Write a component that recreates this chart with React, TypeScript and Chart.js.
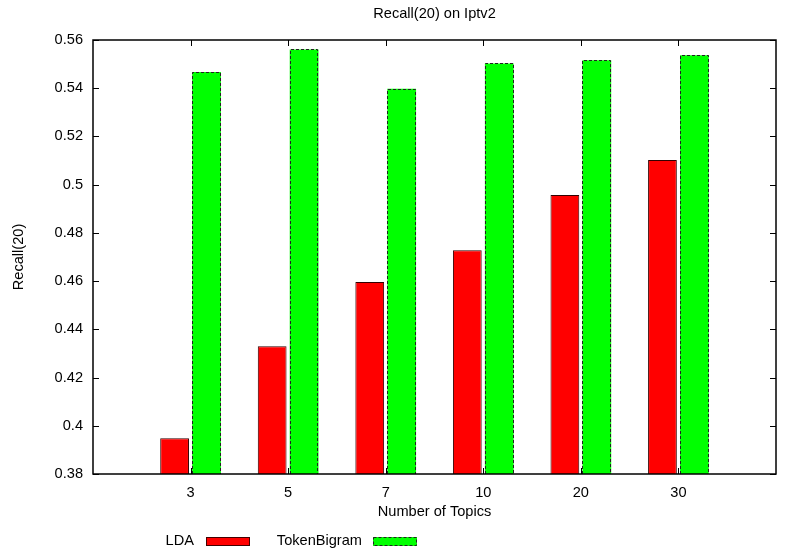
import React, { useEffect, useRef } from 'react';
import { Chart, registerables } from 'chart.js';

Chart.register(...registerables);

const categories = ['3', '5', '7', '10', '20', '30'];
const ldaValues = [0.3948, 0.433, 0.4596, 0.4728, 0.4957, 0.5102];
const tokenBigramValues = [0.5467, 0.5561, 0.5398, 0.5503, 0.5516, 0.5537];
const yTickValues = [0.38, 0.4, 0.42, 0.44, 0.46, 0.48, 0.5, 0.52, 0.54, 0.56];
const seriesNames = ['LDA', 'TokenBigram'];
const chartTitle = 'Recall(20) on Iptv2';
const xAxisTitle = 'Number of Topics';
const yAxisTitle = 'Recall(20)';

const FONT = '"Liberation Sans", Arial, Helvetica, sans-serif';
const FONT_SIZE = 14.6;
const RED = '#ff0000';
const GREEN = '#00ff00';

const gnuplotPlugin = {
  id: 'gnuplotFrame',
  beforeDatasetsDraw(chart: any) {
    const { ctx, chartArea, scales } = chart;
    const { left, right, top, bottom } = chartArea;
    const tl = 6;
    ctx.save();
    ctx.strokeStyle = '#000';
    ctx.lineWidth = 1;
    ctx.beginPath();
    const xs = scales.x;
    for (let i = 1; i < xs.ticks.length - 1; i++) {
      const px = Math.round(xs.getPixelForTick(i)) + 0.5;
      ctx.moveTo(px, bottom);
      ctx.lineTo(px, bottom - tl);
      ctx.moveTo(px, top);
      ctx.lineTo(px, top + tl);
    }
    const ys = scales.y;
    for (let i = 0; i < ys.ticks.length; i++) {
      const py = Math.round(ys.getPixelForTick(i)) + 0.5;
      ctx.moveTo(left, py);
      ctx.lineTo(left + tl, py);
      ctx.moveTo(right, py);
      ctx.lineTo(right - tl, py);
    }
    ctx.stroke();
    ctx.restore();
  },
  afterDatasetsDraw(chart: any) {
    const { ctx, chartArea } = chart;
    const { left, right, top, bottom } = chartArea;
    ctx.save();
    const meta = chart.getDatasetMeta(1);
    const data = chart.data.datasets[1].data;
    ctx.strokeStyle = '#222';
    ctx.lineWidth = 1;
    ctx.setLineDash([3, 2]);
    meta.data.forEach((el: any, i: number) => {
      if (data[i] == null) return;
      const p = el.getProps(['x', 'y', 'width'], true);
      const x0 = Math.round(p.x - p.width / 2) + 0.5;
      const x1 = Math.round(p.x + p.width / 2) - 0.5;
      const y0 = Math.round(p.y) + 0.5;
      ctx.beginPath();
      ctx.moveTo(x0, bottom);
      ctx.lineTo(x0, y0);
      ctx.lineTo(x1, y0);
      ctx.lineTo(x1, bottom);
      ctx.stroke();
    });
    ctx.setLineDash([]);
    ctx.strokeStyle = '#000';
    ctx.lineWidth = 1.5;
    ctx.strokeRect(left, top, right - left, bottom - top);
    ctx.restore();
  },
  afterDraw(chart: any) {
    const { ctx, chartArea } = chart;
    const cx = (chartArea.left + chartArea.right) / 2;
    const cy = (chartArea.top + chartArea.bottom) / 2;
    ctx.save();
    ctx.fillStyle = '#000';
    ctx.font = `${FONT_SIZE}px ${FONT}`;
    ctx.textAlign = 'center';
    ctx.textBaseline = 'middle';
    ctx.fillText(chartTitle, cx, 14);
    ctx.fillText(xAxisTitle, cx, 512);
    ctx.save();
    ctx.translate(19, cy);
    ctx.rotate(-Math.PI / 2);
    ctx.fillText(yAxisTitle, 0, 0);
    ctx.restore();
    ctx.textAlign = 'right';
    const ly = 541;
    ctx.fillText(seriesNames[0], 194, ly);
    ctx.fillStyle = RED;
    ctx.fillRect(206, ly - 4, 44, 9);
    ctx.strokeStyle = '#400';
    ctx.lineWidth = 1;
    ctx.strokeRect(206.5, ly - 3.5, 43, 8);
    ctx.fillStyle = '#000';
    ctx.fillText(seriesNames[1], 362, ly);
    ctx.fillStyle = GREEN;
    ctx.fillRect(373, ly - 4, 44, 9);
    ctx.strokeStyle = '#222';
    ctx.setLineDash([3, 2]);
    ctx.strokeRect(373.5, ly - 3.5, 43, 8);
    ctx.restore();
  },
};

export default function App() {
  const ref = useRef<HTMLCanvasElement | null>(null);
  useEffect(() => {
    document.body.style.margin = '0';
    if (!ref.current) return;
    const labels = ['', ...categories, ''];
    const chart = new Chart(ref.current, {
      type: 'bar',
      data: {
        labels,
        datasets: [
          {
            label: seriesNames[0],
            data: [null, ...ldaValues, null],
            backgroundColor: RED,
            borderColor: '#300',
            borderWidth: 1,
            borderSkipped: 'start',
            categoryPercentage: 0.655,
            barPercentage: 0.9,
          },
          {
            label: seriesNames[1],
            data: [null, ...tokenBigramValues, null],
            backgroundColor: GREEN,
            borderWidth: 0,
            categoryPercentage: 0.655,
            barPercentage: 0.9,
          },
        ],
      },
      options: {
        animation: false,
        responsive: false,
        maintainAspectRatio: false,
        layout: { padding: { left: 0, right: 4, top: 40, bottom: 0 } },
        plugins: {
          legend: { display: false },
          title: { display: false },
          tooltip: { enabled: false },
        },
        scales: {
          x: {
            type: 'category',
            offset: false,
            grid: { display: false, drawTicks: false },
            border: { display: false },
            ticks: {
              color: '#000',
              font: { family: FONT, size: FONT_SIZE },
              padding: 10,
              maxRotation: 0,
              autoSkip: false,
            },
            afterFit: (s: any) => {
              s.height = 82;
            },
          },
          y: {
            min: 0.38,
            max: 0.56,
            grid: { display: false, drawTicks: false },
            border: { display: false },
            afterBuildTicks: (s: any) => {
              s.ticks = yTickValues.map((v) => ({ value: v }));
            },
            ticks: {
              color: '#000',
              font: { family: FONT, size: FONT_SIZE },
              padding: 10,
              callback: (v: any) => String(parseFloat(Number(v).toFixed(2))),
            },
            afterFit: (s: any) => {
              s.width = 93;
            },
          },
        },
      },
      plugins: [gnuplotPlugin],
    });
    return () => chart.destroy();
  }, []);
  return (
    <div style={{ width: 786, height: 556 }}>
      <canvas ref={ref} width={786} height={556} style={{ display: 'block', width: 786, height: 556 }} />
    </div>
  );
}
